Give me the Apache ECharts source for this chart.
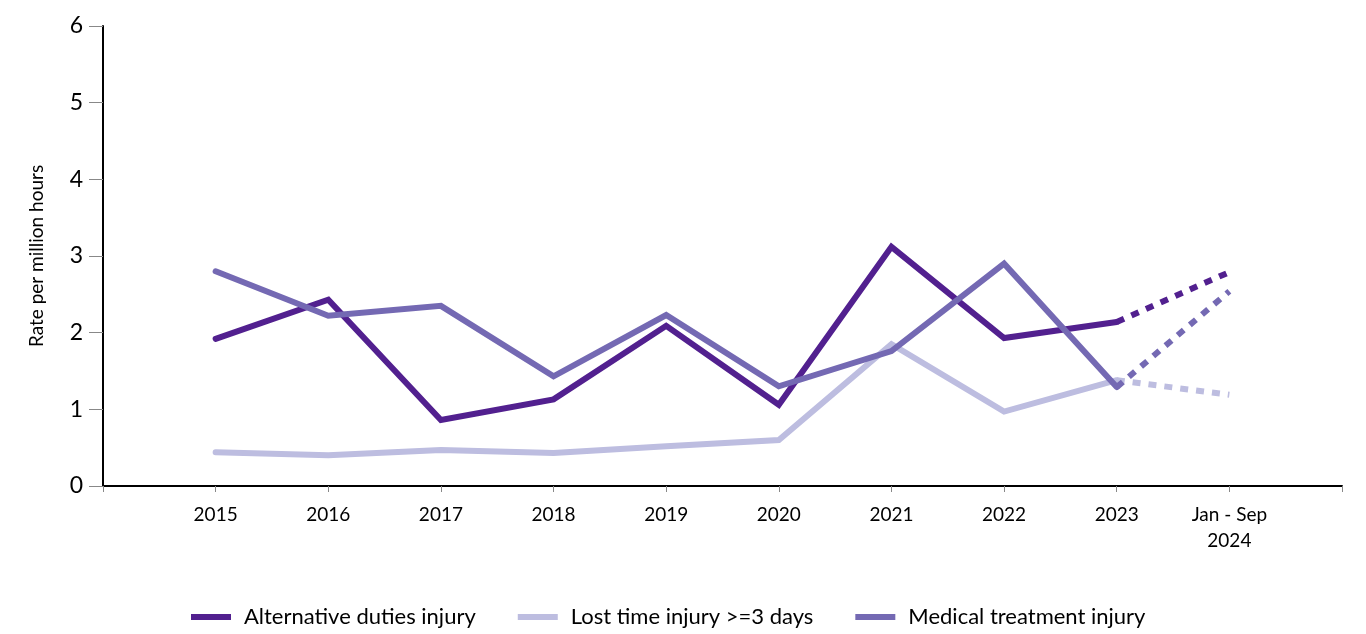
<!DOCTYPE html>
<html>
<head>
<meta charset="utf-8">
<script src="https://cdn.jsdelivr.net/npm/echarts@6/dist/echarts.min.js"></script>
<style>
  html, body { margin: 0; padding: 0; background: #fff; }
  #chart { width: 1366px; height: 634px; }
</style>
</head>
<body>
<div id="chart"></div>
<script>
  // categories (blank slots at both ends give the extra ticks)
  const years = ['', '2015', '2016', '2017', '2018', '2019', '2020', '2021', '2022', '2023', 'Jan - Sep\n2024', '']

  // actual values 2015-2023, then 2023 -> Jan-Sep 2024 shown dotted
  const altDuties = [null, 1.92, 2.43, 0.86, 1.13, 2.09, 1.06, 3.12, 1.93, 2.14, null, null]
  const altDutiesPart = [null, null, null, null, null, null, null, null, null, 2.14, 2.79, null]
  const lostTime = [null, 0.44, 0.40, 0.47, 0.43, 0.52, 0.60, 1.85, 0.97, 1.38, null, null]
  const lostTimePart = [null, null, null, null, null, null, null, null, null, 1.38, 1.19, null]
  const medical = [null, 2.80, 2.22, 2.35, 1.43, 2.23, 1.30, 1.76, 2.90, 1.29, null, null]
  const medicalPart = [null, null, null, null, null, null, null, null, null, 1.29, 2.54, null]

  const yTicks = [0, 1, 2, 3, 4, 5, 6]

  const cDark = '#52208f'
  const cLight = '#bdbde0'
  const cMid = '#7469b3'

  function solid(name, data, color) {
    return {
      name: name, type: 'line', data: data, symbol: 'none',
      lineStyle: { color: color, width: 6, cap: 'round', join: 'miter' },
      itemStyle: { color: color }
    }
  }
  function dotted(name, data, color) {
    return {
      name: name, type: 'line', data: data, symbol: 'none',
      lineStyle: { color: color, width: 6, type: [8, 8], cap: 'butt' },
      itemStyle: { color: color }
    }
  }

  const chart = echarts.init(document.getElementById('chart'))
  chart.setOption({
    animation: false,
    textStyle: { fontFamily: 'Lato' },
    grid: { left: 103, right: 24, top: 26, bottom: 148 },
    legend: {
      data: ['Alternative duties injury', 'Lost time injury >=3 days', 'Medical treatment injury'],
      bottom: 1, left: 186,
      itemWidth: 40, itemHeight: 6, itemGap: 42,
      icon: 'rect',
      textStyle: { fontSize: 22, color: '#000', fontFamily: 'Lato', padding: [0, 0, 0, 8] }
    },
    xAxis: {
      type: 'category',
      data: years,
      boundaryGap: false,
      axisLine: { lineStyle: { color: '#000', width: 2 } },
      axisTick: { show: true, length: 6, lineStyle: { color: '#888' }, interval: 0 },
      axisLabel: { color: '#000', fontSize: 19, margin: 16, interval: 0, lineHeight: 26 }
    },
    yAxis: {
      type: 'value',
      min: yTicks[0], max: yTicks[yTicks.length - 1], interval: 1,
      name: 'Rate per million hours',
      nameLocation: 'middle', nameGap: 57,
      nameTextStyle: { fontSize: 19, color: '#000' },
      axisLine: { show: true, lineStyle: { color: '#000', width: 2 } },
      axisTick: { show: true, length: 14, lineStyle: { color: '#888' } },
      axisLabel: { color: '#000', fontSize: 23, margin: 20 },
      splitLine: { show: false }
    },
    series: [
      solid('Alternative duties injury', altDuties, cDark),
      dotted('Alternative duties injury (part year)', altDutiesPart, cDark),
      solid('Lost time injury >=3 days', lostTime, cLight),
      dotted('Lost time injury (part year)', lostTimePart, cLight),
      solid('Medical treatment injury', medical, cMid),
      dotted('Medical treatment injury (part year)', medicalPart, cMid)
    ]
  })
</script>
</body>
</html>
